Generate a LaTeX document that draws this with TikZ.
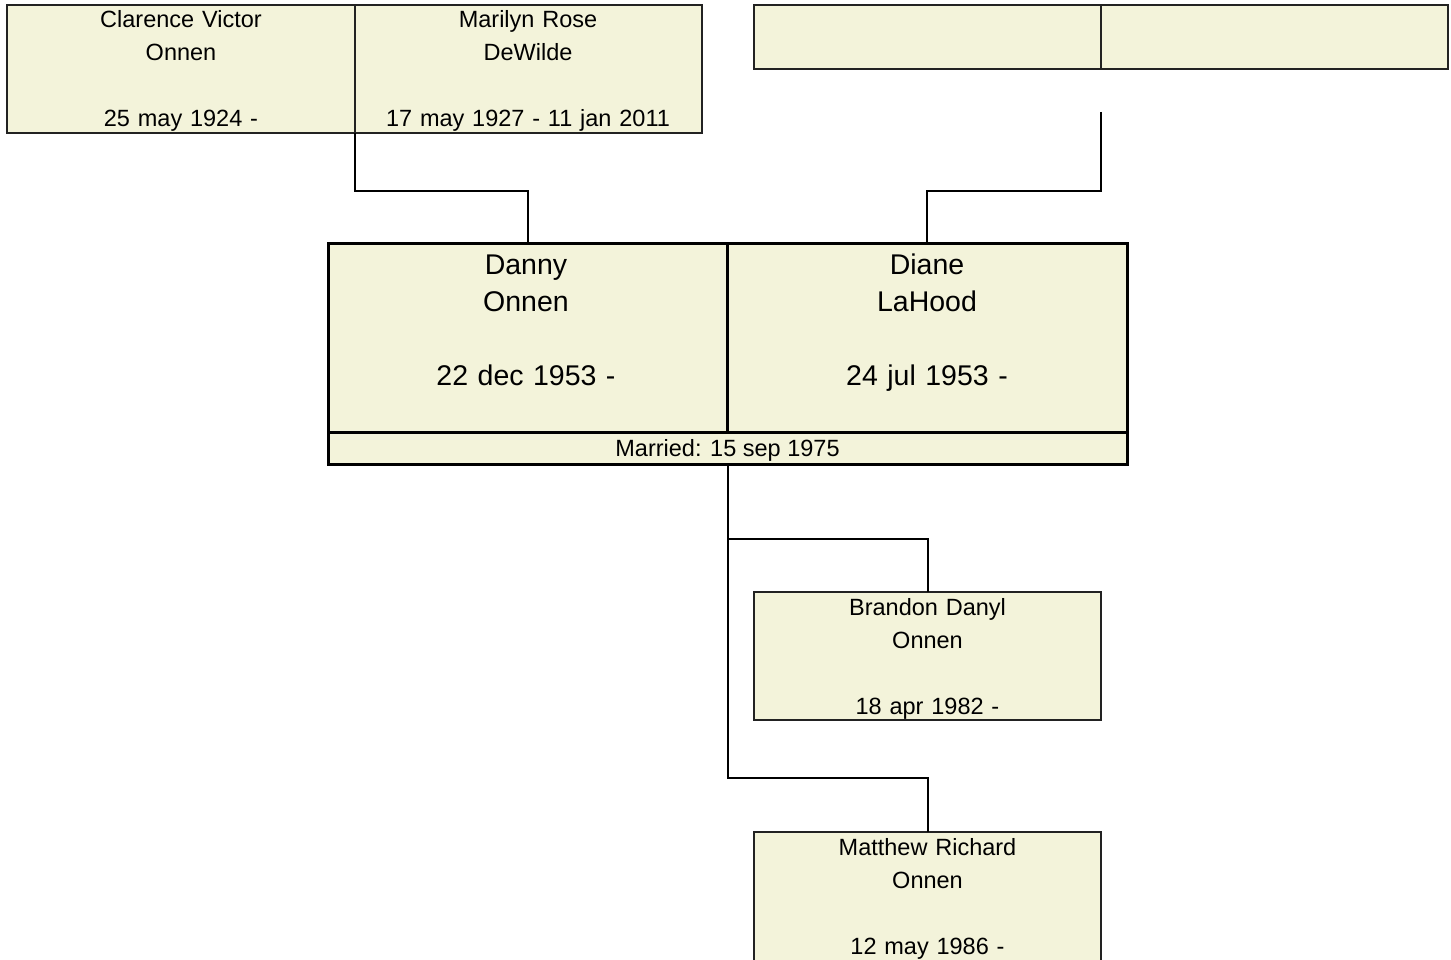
\documentclass[tikz,border=0pt]{standalone}
\usepackage{fontspec}
\setmainfont{Liberation Sans}
\definecolor{boxfill}{HTML}{F3F3DA}
\definecolor{boxline}{HTML}{222222}
\tikzset{
  pbox/.style={draw=boxline, fill=boxfill, line width=2pt, inner sep=0pt, outer sep=0pt, anchor=north west},
  mbox/.style={draw=black, fill=boxfill, line width=3pt, inner sep=0pt, outer sep=0pt, anchor=north west},
  stext/.style={anchor=base, inner sep=0pt, text width=340pt, align=center, font=\fontsize{23.5}{33}\selectfont},
  btext/.style={anchor=base, inner sep=0pt, text width=390pt, align=center, font=\fontsize{28.5}{37}\selectfont},
  conn/.style={draw=black, line width=2pt}
}
\begin{document}
\begin{tikzpicture}[x=1pt,y=-1pt]
\useasboundingbox (0,0) rectangle (1451,960);
% grandparents
\node[pbox, minimum width=348pt, minimum height=128pt] (clar) at (7,5) {};
\node[pbox, minimum width=347pt, minimum height=128pt] (mari) at (355,5) {};
\node[pbox, minimum width=347pt, minimum height=64pt] (gp3) at (754,5) {};
\node[pbox, minimum width=347pt, minimum height=64pt] (gp4) at (1101,5) {};
\node[stext] (clart) at (181,28) {Clarence Victor\\Onnen\\[\baselineskip]25 may 1924 -};
\node[stext] (marit) at (528,28) {Marilyn Rose\\DeWilde\\[\baselineskip]17 may 1927 - 11 jan 2011};
% couple
\node[mbox, minimum width=399pt, minimum height=188pt] (danny) at (328,244) {};
\node[mbox, minimum width=400pt, minimum height=188pt] (diane) at (727,244) {};
\node[mbox, minimum width=799pt, minimum height=32pt] (married) at (328,432) {};
\draw[draw=black, line width=2.5pt] (danny.north east) -- (danny.south east);
\node[btext] (dannyt) at (526,274) {Danny\\Onnen\\[\baselineskip]22 dec 1953 -};
\node[btext] (dianet) at (927,274) {Diane\\LaHood\\[\baselineskip]24 jul 1953 -};
\node[anchor=base, inner sep=0pt, font=\fontsize{23.5}{28}\selectfont] (marriedt) at (727.5,456) {Married: 15 sep 1975};
% children
\node[pbox, minimum width=347pt, minimum height=128pt] (brandon) at (754,592) {};
\node[pbox, minimum width=347pt, minimum height=140pt] (matt) at (754,832) {};
\node[stext] (brandont) at (927.5,615) {Brandon Danyl\\Onnen\\[\baselineskip]18 apr 1982 -};
\node[stext] (mattt) at (927.5,855) {Matthew Richard\\Onnen\\[\baselineskip]12 may 1986 -};
% connectors
\coordinate (jl) at (355,191);
\coordinate (rtop) at (1101,112);
\coordinate (jr) at (1101,191);
\coordinate (cmid) at (727.5,539);
\coordinate (cbot) at (727.5,778);
\draw[conn] (mari.south west) -- (jl) -| (danny.north);
\draw[conn] (rtop) -- (jr) -| (diane.north);
\draw[conn] (married.south) -- (cbot) -| (matt.north);
\draw[conn] (cmid) -| (brandon.north);
\end{tikzpicture}
\end{document}
